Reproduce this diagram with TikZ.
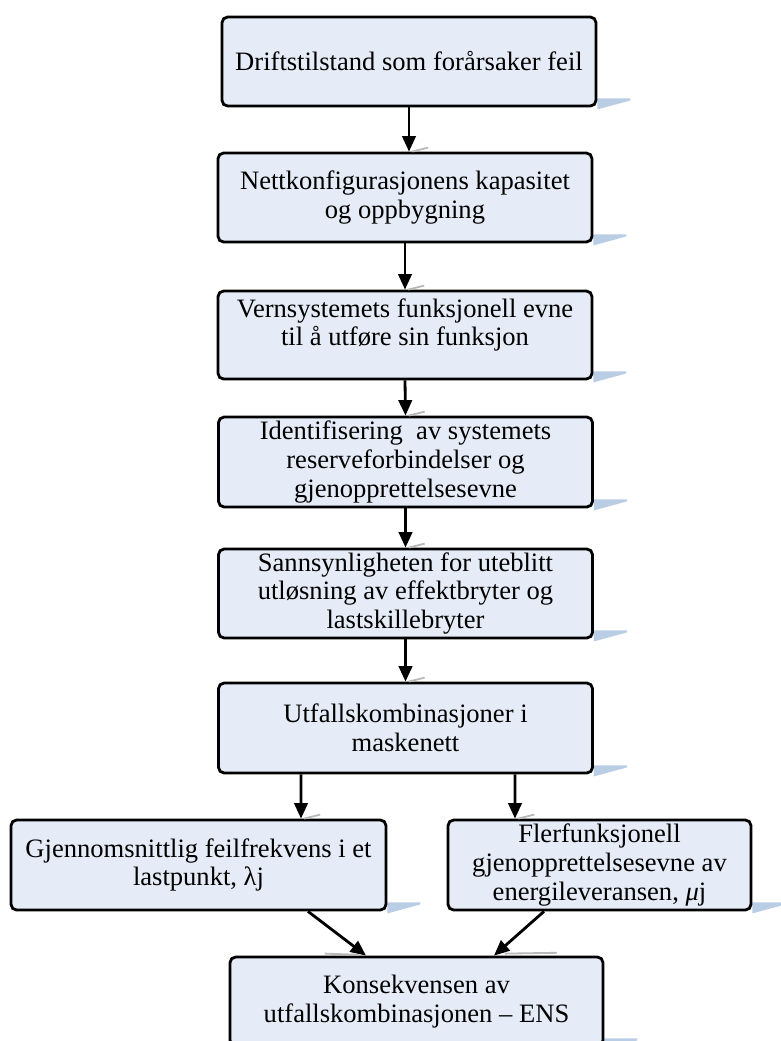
\documentclass[tikz,border=0pt]{standalone}
\usepackage{fontspec}
\setmainfont{Liberation Serif}
\usetikzlibrary{arrows.meta,backgrounds}
\definecolor{boxfill}{HTML}{E6ECF7}
\definecolor{shadowblue}{HTML}{B9CDE5}

\begin{document}
\begin{tikzpicture}[
  font=\fontsize{18.9}{20.4}\selectfont,
  every node/.style={align=center},
  stage/.style={draw=black,line width=2pt,fill=boxfill,rounded corners=4pt,
                minimum width=9.35cm,minimum height=2.225cm,inner xsep=2pt,inner ysep=0pt},
  branch/.style={stage,minimum height=2.25cm},
  arr/.style={-{Triangle[length=11pt,width=9.5pt]},line width=2pt,draw=black},
  glint/.style={draw=gray!55,line width=1.3pt},
  refl/.style={fill=shadowblue}
]
\useasboundingbox (0,0) rectangle (19.5,-26.025);

\node[stage]  (drift)  at (10.225,-1.5375) {Driftstilstand som forårsaker feil};
\node[stage]  (nett)   at (10.125,-4.9375) {Nettkonfigurasjonens kapasitet\\og oppbygning};
\node[stage,minimum height=2.2cm] (vern) at (10.125,-8.375)
  {Vernsystemets funksjonell evne\\til å utføre sin funksjon\\[-8pt]\strut};
\node[branch] (ident)  at (10.1375,-11.55) {Identifisering\ \ av systemets\\reserveforbindelser og\\gjenopprettelsesevne};
\node[stage]  (sann)   at (10.1375,-14.8375) {Sannsynligheten for uteblitt\\utløsning av effektbryter og\\lastskillebryter};
\node[branch] (utfall) at (10.1375,-18.2) {Utfallskombinasjoner i\\maskenett};

\node[branch,minimum width=9.375cm] (gjsn) at (4.9625,-21.625) {Gjennomsnittlig feilfrekvens i et\\lastpunkt, λj};
\node[branch,minimum width=7.575cm] (fler) at (14.9875,-21.625) {Flerfunksjonell\\gjenopprettelsesevne av\\energileveransen, \textit{μ}j};

\node[stage,minimum width=9.325cm] (kons) at (10.4125,-25.0375) {Konsekvensen av\\utfallskombinasjonen -- ENS};

% reflections under the boxes
\begin{scope}[on background layer]
\fill[refl] ([yshift=0.225cm]drift.south east) -- ++(0.825,0) -- ++(0,-0.05) -- ([yshift=-0.05cm]drift.south east) -- cycle;
\fill[refl] ([yshift=0.225cm]nett.south east) -- ++(0.825,0) -- ++(0,-0.05) -- ([yshift=-0.05cm]nett.south east) -- cycle;
\fill[refl] ([yshift=0.225cm]vern.south east) -- ++(0.825,0) -- ++(0,-0.05) -- ([yshift=-0.05cm]vern.south east) -- cycle;
\fill[refl] ([yshift=0.225cm]ident.south east) -- ++(0.825,0) -- ++(0,-0.05) -- ([yshift=-0.05cm]ident.south east) -- cycle;
\fill[refl] ([yshift=0.225cm]sann.south east) -- ++(0.825,0) -- ++(0,-0.05) -- ([yshift=-0.05cm]sann.south east) -- cycle;
\fill[refl] ([yshift=0.225cm]utfall.south east) -- ++(0.825,0) -- ++(0,-0.05) -- ([yshift=-0.05cm]utfall.south east) -- cycle;
\fill[refl] ([yshift=0.225cm]gjsn.south east) -- ++(0.825,0) -- ++(0,-0.05) -- ([yshift=-0.05cm]gjsn.south east) -- cycle;
\fill[refl] ([yshift=0.225cm]fler.south east) -- ++(0.825,0) -- ++(0,-0.05) -- ([yshift=-0.05cm]fler.south east) -- cycle;
\fill[refl] ([yshift=0.225cm]kons.south east) -- ++(0.825,0) -- ++(0,-0.05) -- ([yshift=-0.05cm]kons.south east) -- cycle;
\end{scope}

% arrows
\draw[arr] (drift.south) -- (drift.south |- nett.north);
\draw[arr] (nett.south) -- (vern.north);
\draw[arr] (vern.south) -- (ident.north);
\draw[arr] (ident.south) -- (sann.north);
\draw[arr] (sann.south) -- (utfall.north);
\draw[arr] ([xshift=-2.6125cm]utfall.south) -- ([xshift=2.5625cm]gjsn.north);
\draw[arr] ([xshift=2.7375cm]utfall.south) -- ([xshift=-2.1125cm]fler.north);
\draw[arr] ([xshift=2.7375cm]gjsn.south) -- ([xshift=-1.2625cm]kons.north);
\draw[arr] ([xshift=-1.3875cm]fler.south) -- ([xshift=1.9375cm]kons.north);

% small grey marks at the arrow tips
\draw[glint] ([xshift=0.18cm]nett.north) -- ++(0.4,0.1);
\draw[glint] ([xshift=0.08cm]vern.north) -- ++(0.4,0.1);
\draw[glint] ([xshift=0.08cm]ident.north) -- ++(0.4,0.1);
\draw[glint] ([xshift=0.08cm]sann.north) -- ++(0.4,0.1);
\draw[glint] ([xshift=0.08cm]utfall.north) -- ++(0.4,0.1);
\draw[glint] ([xshift=2.64cm]gjsn.north) -- ++(0.4,0.1);
\draw[glint] ([xshift=-2.03cm]fler.north) -- ++(0.4,0.1);
\draw[glint] ([xshift=-2.29cm,yshift=0.05cm]kons.north) -- ++(0.85,-0.03);
\draw[glint] ([xshift=2.21cm,yshift=0.05cm]kons.north) -- ++(1.3,0.02);
\end{tikzpicture}
\end{document}
